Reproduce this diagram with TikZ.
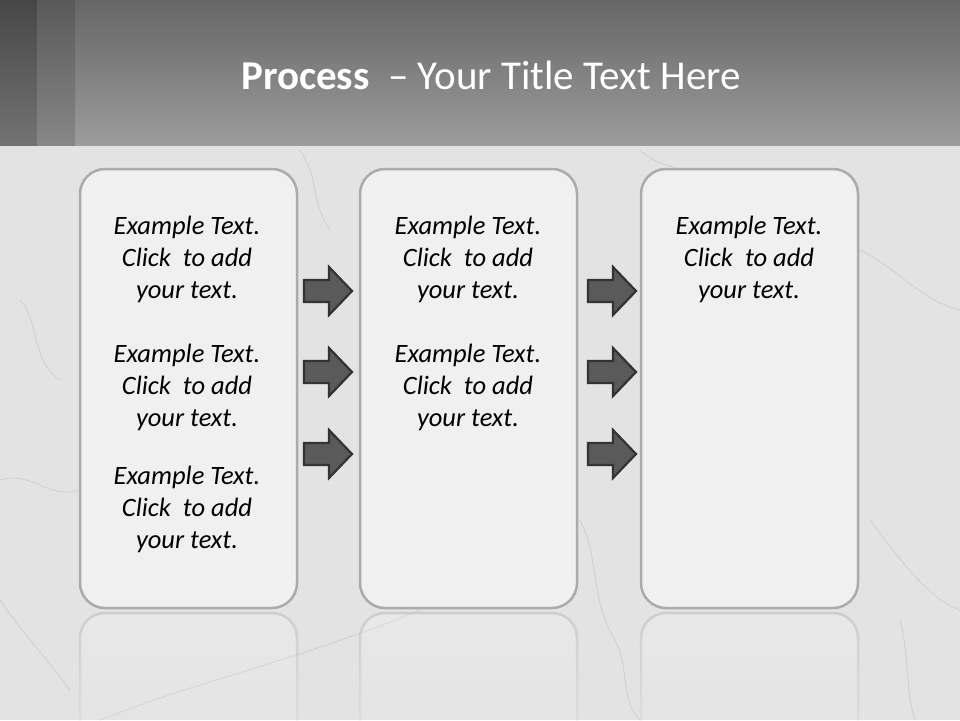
\documentclass[tikz,border=0pt]{standalone}
\usepackage{fontspec}
\setmainfont{Carlito}
\usetikzlibrary{fadings}
\definecolor{marble}{HTML}{E3E3E3}
\definecolor{crack}{HTML}{CFCFCF}
\definecolor{titletop}{HTML}{666666}
\definecolor{titlebot}{HTML}{9C9C9C}
\definecolor{boxfill}{HTML}{F0F0F0}
\definecolor{boxline}{HTML}{ABABAB}
\definecolor{arrowfill}{HTML}{5A5A5A}
\definecolor{arrowline}{HTML}{333333}
\tikzset{
  box/.style={draw=boxline, line width=2.5pt, fill=boxfill, rounded corners=25pt, minimum width=217pt, minimum height=439pt, inner sep=0pt},
  reflect/.style={draw=boxline, draw opacity=0.4, line width=2.5pt, fill=white, fill opacity=0.2, rounded corners=25pt, path fading=south},
  bodytxt/.style={font=\fontsize{26.5}{32}\selectfont\itshape, align=center, text=black, inner sep=0pt},
  titletext/.style={font=\fontsize{41}{48}\selectfont, text=white, inner sep=0pt},
  arrowstyle/.style={fill=arrowfill, draw=arrowline, line width=2.2pt, line join=miter},
  crackline/.style={draw=crack, line width=0.8pt},
  blockarrow/.pic={\draw[arrowstyle] (-24,-11) -- (1,-11) -- (1,-24) -- (24,0) -- (1,24) -- (1,11) -- (-24,11) -- cycle;}
}
\newcommand\blocktext{Example Text.\\Click~ to add\\your text.}
\begin{document}
\begin{tikzpicture}[x=1pt,y=-1pt]
\useasboundingbox (0,0) rectangle (960,720);
% background marble
\fill[marble] (0,145) rectangle (960,720);
\path[crackline] (300,150) .. controls (320,180) and (310,200) .. (330,230);
\path[crackline] (20,300) .. controls (40,320) and (30,360) .. (60,380);
\path[crackline] (0,480) .. controls (30,470) and (50,500) .. (78,490);
\path[crackline] (580,520) .. controls (600,560) and (590,600) .. (615,640) .. controls (630,670) and (620,700) .. (640,720);
\path[crackline] (100,720) .. controls (200,680) and (300,660) .. (420,610);
\path[crackline] (860,250) .. controls (900,270) and (920,300) .. (960,310);
\path[crackline] (870,520) .. controls (900,560) and (930,600) .. (960,610);
\path[crackline] (900,620) .. controls (910,660) and (905,690) .. (915,720);
\path[crackline] (640,150) .. controls (660,170) and (680,160) .. (700,190);
\path[crackline] (0,600) .. controls (20,630) and (40,650) .. (70,690);
% title bar
\shade[top color=titletop, bottom color=titlebot] (0,0) rectangle (960,145);
\shade[top color=black!72, bottom color=black!55] (0,0) rectangle (37,145);
\shade[top color=black!65, bottom color=black!47] (37,0) rectangle (75,145);
\node[titletext] (title) at (491,75) {\textbf{Process}~ – Your Title Text Here};
% reflections
\path[reflect] (80,760) -- (80,613) -- (297,613) -- (297,760);
\path[reflect] (360,760) -- (360,613) -- (577,613) -- (577,760);
\path[reflect] (641,760) -- (641,613) -- (858,613) -- (858,760);
% boxes
\node[box] (b1) at (188.5,388.5) {};
\node[box] (b2) at (468.5,388.5) {};
\node[box] (b3) at (749.5,388.5) {};
% texts
\node[bodytxt] (t11) at (187,259) {\blocktext};
\node[bodytxt] (t12) at (187,387) {\blocktext};
\node[bodytxt] (t13) at (187,509) {\blocktext};
\node[bodytxt] (t21) at (468,259) {\blocktext};
\node[bodytxt] (t22) at (468,387) {\blocktext};
\node[bodytxt] (t31) at (749,259) {\blocktext};
% arrows
\pic at (328,291) {blockarrow};
\pic at (328,372) {blockarrow};
\pic at (328,454) {blockarrow};
\pic at (612,291) {blockarrow};
\pic at (612,372) {blockarrow};
\pic at (612,454) {blockarrow};
\end{tikzpicture}
\end{document}
